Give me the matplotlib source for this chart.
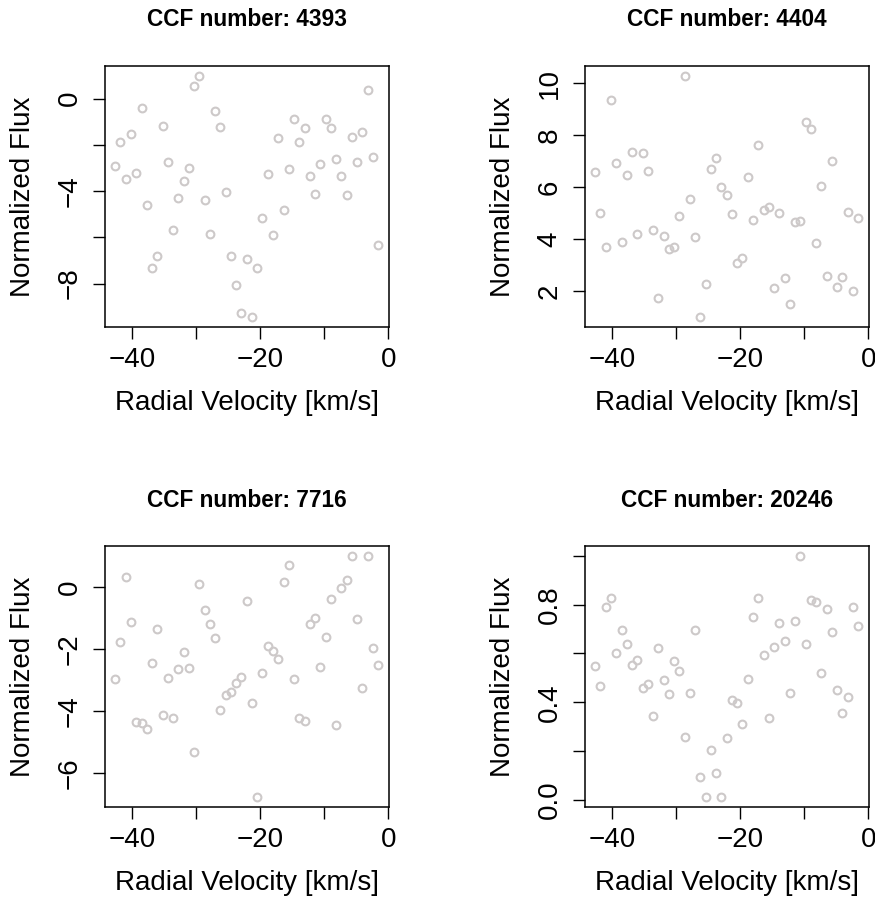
import numpy as np
import matplotlib.pyplot as plt

plt.rcParams['font.family'] = ['Liberation Sans', 'DejaVu Sans']

# velocity grid [km/s]
vel = [-42.6, -41.78, -40.96, -40.14, -39.32, -38.5, -37.68, -36.86, -36.04,
       -35.22, -34.4, -33.58, -32.76, -31.94, -31.12, -30.3, -29.48, -28.66,
       -27.84, -27.02, -26.2, -25.38, -24.56, -23.74, -22.92, -22.1, -21.28,
       -20.46, -19.64, -18.82, -18.0, -17.18, -16.36, -15.54, -14.72, -13.9,
       -13.08, -12.26, -11.44, -10.62, -9.8, -8.98, -8.16, -7.34, -6.52,
       -5.7, -4.88, -4.06, -3.24, -2.42, -1.6]

ccf_ids = [4393, 4404, 7716, 20246]

flux_4393 = [-2.91, -1.86, -3.48, -1.53, -3.24, -0.42, -4.59, -7.32, -6.82,
             -1.17, -2.76, -5.70, -4.30, -3.58, -2.99, 0.56, 0.99, -4.40,
             -5.86, -0.56, -1.25, -4.04, -6.81, -8.07, -9.29, -6.96, -9.45,
             -7.32, -5.17, -3.25, -5.91, -1.71, -4.81, -3.04, -0.89, -1.90,
             -1.29, -3.37, -4.12, -2.82, -0.89, -1.28, -2.62, -3.35, -4.17,
             -1.68, -2.75, -1.45, 0.36, -2.53, -6.35]

flux_4404 = [6.57, 4.99, 3.71, 9.36, 6.94, 3.87, 6.48, 7.36, 4.18, 7.31,
             6.61, 4.34, 1.75, 4.11, 3.60, 3.69, 4.89, 10.29, 5.54, 4.07,
             1.00, 2.29, 6.68, 7.12, 6.02, 5.70, 4.98, 3.08, 3.28, 6.38,
             4.74, 7.62, 5.12, 5.22, 2.13, 4.99, 2.50, 1.52, 4.64, 4.70,
             8.49, 8.23, 3.85, 6.03, 2.57, 7.00, 2.16, 2.54, 5.06, 2.02, 4.80]

flux_7716 = [-2.97, -1.77, 0.31, -1.14, -4.37, -4.40, -4.59, -2.46, -1.36,
             -4.14, -2.94, -4.24, -2.65, -2.09, -2.62, -5.32, 0.08, -0.73,
             -1.21, -1.64, -3.96, -3.48, -3.38, -3.11, -2.91, -0.45, -3.76,
             -6.78, -2.77, -1.92, -2.07, -2.32, 0.17, 0.72, -2.97, -4.23,
             -4.33, -1.20, -0.99, -2.58, -1.63, -0.39, -4.45, -0.02, 0.23,
             1.01, -1.04, -3.27, 1.01, -1.98, -2.52]

flux_20246 = [0.548, 0.467, 0.790, 0.828, 0.602, 0.696, 0.640, 0.551, 0.574,
              0.460, 0.473, 0.345, 0.623, 0.491, 0.435, 0.569, 0.527, 0.256,
              0.439, 0.696, 0.094, 0.011, 0.202, 0.108, 0.011, 0.254, 0.409,
              0.396, 0.311, 0.495, 0.749, 0.828, 0.593, 0.334, 0.626, 0.726,
              0.653, 0.438, 0.734, 1.001, 0.637, 0.820, 0.812, 0.518, 0.783,
              0.689, 0.450, 0.357, 0.420, 0.790, 0.713]

fluxes = [flux_4393, flux_4404, flux_7716, flux_20246]

# y ticks and which of them get a label (R drops the crowded ones)
yticks = [[0, -2, -4, -6, -8], [2, 4, 6, 8, 10], [0, -2, -4, -6],
          [0.0, 0.2, 0.4, 0.6, 0.8, 1.0]]
ylabs = [['0', '', '\u22124', '', '\u22128'],
         ['2', '4', '6', '8', '10'],
         ['0', '\u22122', '\u22124', '\u22126'],
         ['0.0', '', '0.4', '', '0.8', '']]
xticks = [-40, -30, -20, -10, 0]
xlabs = ['\u221240', '', '\u221220', '', '0']

W, H = 875, 906
fig = plt.figure(figsize=(W / 100, H / 100), dpi=100)

# axes boxes in pixels: left, top
boxes = [(104.7, 66), (584.7, 66), (104.7, 546), (584.7, 546)]
bw, bh = 284, 260.7

px = 0.72  # pixel -> points
fs = 20
col = '#CDC9C9'

for k in range(4):
    l, t = boxes[k]
    ax = fig.add_axes([l / W, 1 - (t + bh) / H, bw / W, bh / H])
    ax.plot(vel, fluxes[k], 'o', ms=5.6, mfc='none', mec=col, mew=1.5)
    ax.margins(x=0.04, y=0.04)

    ax.set_xticks(xticks)
    ax.set_xticklabels(xlabs, fontsize=fs, va='center')
    ax.set_yticks(yticks[k])
    ax.set_yticklabels(ylabs[k], fontsize=fs, rotation=90, ha='center',
                       va='center')
    ax.tick_params(axis='x', length=12 * px, width=1, pad=21 * px)
    ax.tick_params(axis='y', length=12 * px, width=1, pad=23 * px)
    for s in ax.spines.values():
        s.set_linewidth(1.1)

    ax.annotate('Radial Velocity [km/s]', xy=(0.5, 0), xycoords='axes fraction',
                xytext=(0, -76 * px), textcoords='offset points',
                ha='center', va='center', fontsize=fs)
    ax.annotate('Normalized Flux', xy=(0, 0.5), xycoords='axes fraction',
                xytext=(-82 * px, 0), textcoords='offset points',
                ha='center', va='center', rotation=90, fontsize=fs)
    ax.annotate(f'CCF number: {ccf_ids[k]}', xy=(0.5, 1),
                xycoords='axes fraction', xytext=(0, 46 * px),
                textcoords='offset points', ha='center', va='center',
                fontsize=16.3, fontweight='bold')

fig.savefig('out.png', dpi=100)
